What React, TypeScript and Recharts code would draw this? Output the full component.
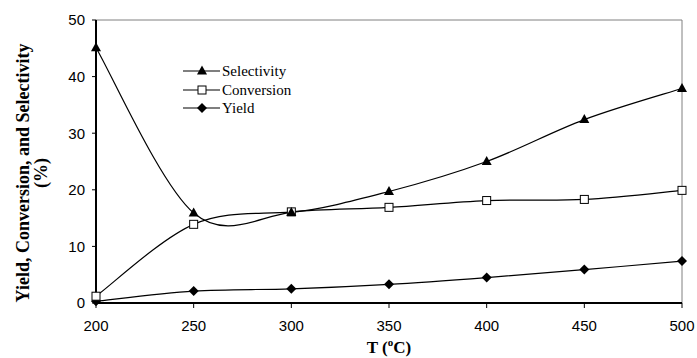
import { LineChart, Line, XAxis, YAxis, ReferenceLine } from "recharts";

const temps = [200, 250, 300, 350, 400, 450, 500];
const selectivity = [45.1, 15.9, 16.0, 19.7, 25.0, 32.4, 37.9];
const conversion = [1.2, 13.9, 16.1, 16.9, 18.1, 18.3, 19.9];
const yieldPct = [0.3, 2.1, 2.5, 3.3, 4.5, 5.9, 7.4];

const xTicks = [200, 250, 300, 350, 400, 450, 500];
const yTicks = [0, 10, 20, 30, 40, 50];

const data = temps.map((t, i) => ({
  t,
  selectivity: selectivity[i],
  conversion: conversion[i],
  yield: yieldPct[i],
}));

const SERIF = "'Liberation Serif', 'Times New Roman', serif";
const SANS = "'Liberation Sans', Arial, sans-serif";

// Excel-style smoothed line (Catmull-Rom as cubic beziers)
function excelSmooth(context: any) {
  let pts: [number, number][] = [];
  return {
    areaStart() {},
    areaEnd() {},
    lineStart() {
      pts = [];
    },
    point(x: number, y: number) {
      pts.push([+x, +y]);
    },
    lineEnd() {
      if (!pts.length) return;
      context.moveTo(pts[0][0], pts[0][1]);
      for (let i = 0; i < pts.length - 1; i++) {
        const p0 = pts[i - 1] ?? pts[i];
        const p1 = pts[i];
        const p2 = pts[i + 1];
        const p3 = pts[i + 2] ?? p2;
        context.bezierCurveTo(
          p1[0] + (p2[0] - p0[0]) / 6,
          p1[1] + (p2[1] - p0[1]) / 6,
          p2[0] - (p3[0] - p1[0]) / 6,
          p2[1] - (p3[1] - p1[1]) / 6,
          p2[0],
          p2[1]
        );
      }
    },
  };
}

function Triangle({ cx, cy }: { cx?: number; cy?: number }) {
  if (cx == null || cy == null) return null;
  return <path d={`M${cx},${cy - 5.5} L${cx + 5},${cy + 3.5} L${cx - 5},${cy + 3.5} Z`} fill="#000" />;
}

function Square({ cx, cy }: { cx?: number; cy?: number }) {
  if (cx == null || cy == null) return null;
  return <rect x={cx - 4} y={cy - 4} width={8} height={8} fill="#fff" stroke="#000" strokeWidth={1} />;
}

function Diamond({ cx, cy }: { cx?: number; cy?: number }) {
  if (cx == null || cy == null) return null;
  return <path d={`M${cx},${cy - 5} L${cx + 5},${cy} L${cx},${cy + 5} L${cx - 5},${cy} Z`} fill="#000" />;
}

const legendRows = [
  { name: "Selectivity", Marker: Triangle, y: 71 },
  { name: "Conversion", Marker: Square, y: 90 },
  { name: "Yield", Marker: Diamond, y: 108 },
];

function YTitle() {
  return (
    <g fontFamily={SERIF} fontWeight="bold" fontSize={18} fill="#000">
      <text x={29} y={173} transform="rotate(-90 29 173)" textAnchor="middle">
        Yield, Conversion, and Selectivity
      </text>
      <text x={47} y={173} transform="rotate(-90 47 173)" textAnchor="middle">
        (%)
      </text>
    </g>
  );
}

export default function App() {
  return (
    <div style={{ position: "relative", width: 697, height: 358 }}>
      <style>{`body{margin:0}`}</style>
      <LineChart width={697} height={358} data={data} margin={{ top: 20, right: 15, bottom: 0, left: 0 }}>
        <XAxis
          dataKey="t"
          type="number"
          domain={[200, 500]}
          ticks={xTicks}
          stroke="#000"
          strokeWidth={2}
          tickSize={5}
          tickMargin={12}
          height={55}
          tick={{ fill: "#000", fontSize: 15, fontFamily: SANS }}
          tickLine={{ stroke: "#000", strokeWidth: 1 }}
          label={{
            content: () => (
              <text x={389} y={353} textAnchor="middle" fontFamily={SERIF} fontWeight="bold" fontSize={17} fill="#000">
                T (<tspan fontSize={11} dy={-7}>o</tspan>
                <tspan dy={7}>C)</tspan>
              </text>
            ),
          }}
        />
        <YAxis
          type="number"
          domain={[0, 50]}
          ticks={yTicks}
          width={96}
          stroke="#000"
          strokeWidth={2}
          tickSize={4}
          tickMargin={7}
          tick={{ fill: "#000", fontSize: 15, fontFamily: SANS }}
          tickLine={{ stroke: "#000", strokeWidth: 1 }}
          label={{ content: () => <YTitle /> }}
        />
        <ReferenceLine y={50} stroke="#808080" strokeWidth={1} />
        <ReferenceLine x={500} stroke="#808080" strokeWidth={1} />
        <Line
          dataKey="yield"
          type={excelSmooth as any}
          stroke="#000"
          strokeWidth={1.2}
          dot={<Diamond />}
          activeDot={false}
          isAnimationActive={false}
        />
        <Line
          dataKey="conversion"
          type={excelSmooth as any}
          stroke="#000"
          strokeWidth={1.2}
          dot={<Square />}
          activeDot={false}
          isAnimationActive={false}
        />
        <Line
          dataKey="selectivity"
          type={excelSmooth as any}
          stroke="#000"
          strokeWidth={1.2}
          dot={<Triangle />}
          activeDot={false}
          isAnimationActive={false}
        />
      </LineChart>
      <svg width={150} height={60} style={{ position: "absolute", left: 180, top: 60 }}>
        {legendRows.map(({ name, Marker, y }) => (
          <g key={name}>
            <line x1={3} x2={40} y1={y - 60} y2={y - 60} stroke="#000" strokeWidth={1.2} />
            <Marker cx={22} cy={y - 60} />
            <text x={42} y={y - 60 + 5} fontFamily={SERIF} fontSize={15} fill="#000">
              {name}
            </text>
          </g>
        ))}
      </svg>
    </div>
  );
}
